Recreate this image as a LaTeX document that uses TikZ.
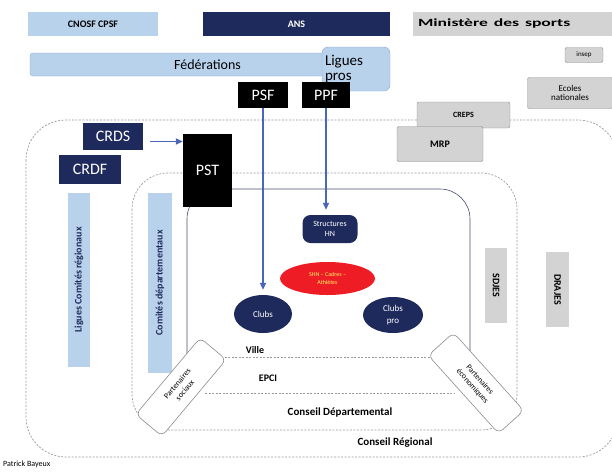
\documentclass[tikz,border=0pt]{standalone}
\usepackage{fontspec}
\setmainfont{Carlito}
\usetikzlibrary{arrows.meta, shapes.geometric}

\definecolor{bleuclair}{HTML}{B9D2EC}
\definecolor{bleubord}{HTML}{8FAAD6}
\definecolor{marine}{HTML}{1F2A5C}
\definecolor{grisfond}{HTML}{D3D3D3}
\definecolor{grisbord}{HTML}{8C8C8C}
\definecolor{fleche}{HTML}{4A66B8}
\definecolor{rouge}{HTML}{EE1C24}
\definecolor{zone}{HTML}{9A9A9A}

\newcommand{\fs}[1]{\fontsize{#1}{1.25\dimexpr#1pt\relax}\selectfont}

\begin{document}
\begin{tikzpicture}[x=1pt, y=-1pt,
    boite/.style={inner sep=0pt, align=center},
    clair/.style={boite, fill=bleuclair},
    fonce/.style={boite, fill=marine, text=white},
    noir/.style={boite, fill=black, text=white},
    gris/.style={boite, fill=grisfond, draw=grisbord, rounded corners=2pt},
    territoire/.style={draw=zone, line width=0.7pt, dash pattern=on 2pt off 1.5pt},
    partenaire/.style={boite, draw=grisbord, fill=white, rounded corners=6pt, line width=0.6pt},
    fl/.style={-{Triangle[length=7pt, width=6pt]}, fleche, line width=1.8pt}
  ]

    \useasboundingbox (0,0) rectangle (612,472);

    % territoires
    \draw[territoire, rounded corners=40pt] (26,120) rectangle (618,457);
    \draw[territoire, rounded corners=36pt] (132,173) rectangle (517,430);
    \draw[draw=marine!60!gray, line width=0.6pt, rounded corners=30pt] (187,357) -- (187,189) -- (470,189) -- (470,357);
    \draw[territoire] (200,357) -- (445,357);
    \draw[territoire] (205,393) -- (455,393);

    % niveau national
    \node[clair, minimum width=130pt, minimum height=24pt, font=\fs{10}\bfseries] (cnosf) at (93,24) {CNOSF CPSF};
    \node[fonce, minimum width=187pt, minimum height=24pt, font=\fs{10}\bfseries] (ans) at (296.5,24) {ANS};
    \node[boite, fill=grisfond, minimum width=210pt, minimum height=24pt, text width=200pt, align=left, font=\fs{11}\bfseries] (ministere) at (518,24) {\scalebox{1.6}[1]{Ministère des sports}};

    \node[clair, draw=bleubord, rounded corners=3pt, minimum width=355pt, minimum height=23pt, font=\fs{14}] (fede) at (207.5,64.5) {Fédérations};
    \node[clair, draw=bleubord, rounded corners=6pt, minimum width=68pt, minimum height=44pt, text width=62pt, align=left, font=\fs{15}] (liguespros) at (356,69) {Ligues\\[-4pt]pros};

    \node[gris, minimum width=38pt, minimum height=15pt, font=\fs{7}] (insep) at (584,55) {insep};
    \node[gris, minimum width=85pt, minimum height=31pt, font=\fs{9}] (ecoles) at (570,93) {Ecoles\\[-2pt]nationales};
    \node[gris, minimum width=93pt, minimum height=26pt, font=\fs{8}\bfseries] (creps) at (463.5,115) {CREPS};
    \node[gris, minimum width=86pt, minimum height=35pt, font=\fs{10}\bfseries] (mrp) at (440,144) {MRP};

    \node[noir, minimum width=50pt, minimum height=26pt, font=\fs{16}] (psf) at (263,95) {PSF};
    \node[noir, minimum width=48pt, minimum height=26pt, font=\fs{16}] (ppf) at (326,95) {PPF};

    % niveau regional et departemental
    \node[fonce, minimum width=60pt, minimum height=27pt, font=\fs{16}] (crds) at (113,136.5) {CRDS};
    \node[fonce, minimum width=62pt, minimum height=29pt, font=\fs{16}] (crdf) at (90,169.5) {CRDF};
    \node[noir, minimum width=49pt, minimum height=73pt, font=\fs{16}] (pst) at (207.5,170.5) {PST};

    \node[clair, rotate=90, minimum width=174pt, minimum height=22pt, font=\fs{10}\bfseries, text=marine] (liguescr) at (79,280) {Ligues Comités régionaux};
    \node[clair, rotate=90, minimum width=180pt, minimum height=24pt, font=\fs{10}\bfseries, text=marine] (comitesdep) at (160,283) {Comités départementaux};

    \node[boite, fill=grisfond, rotate=-90, minimum width=75pt, minimum height=22pt, font=\fs{10}\bfseries] (sdjes) at (496,285.5) {SDJES};
    \node[boite, fill=grisfond, rotate=-90, minimum width=75pt, minimum height=23pt, font=\fs{10}\bfseries] (drajes) at (557.5,289.5) {DRAJES};

    % niveau local
    \node[fonce, rounded corners=8pt, minimum width=55pt, minimum height=28pt, font=\fs{8}] (shn) at (330,229) {Structures\\HN};
    \node[boite, ellipse, fill=rouge, minimum width=95pt, minimum height=33pt, text=yellow!60, font=\fs{6}] (athletes) at (327.5,278.5) {SHN -- Cadres --\\Athlètes};
    \node[fonce, ellipse, minimum width=58pt, minimum height=38pt, font=\fs{9}] (clubs) at (263,314) {Clubs};
    \node[fonce, ellipse, minimum width=60pt, minimum height=36pt, font=\fs{9}] (clubspro) at (393,315) {Clubs\\pro};

    \node[boite, font=\fs{10}\bfseries] (ville) at (255,350) {Ville};
    \node[boite, font=\fs{10}\bfseries] (epci) at (268,378) {EPCI};
    \node[boite, font=\fs{11}\bfseries] (cdep) at (340,412) {Conseil Départemental};
    \node[boite, font=\fs{11}\bfseries] (creg) at (395,443) {Conseil Régional};

    \node[partenaire, rotate=50, minimum width=100pt, minimum height=34pt, font=\fs{8}] (partsoc) at (181,387) {Partenaires\\sociaux};
    \node[partenaire, rotate=-48, minimum width=105pt, minimum height=34pt, font=\fs{8}] (parteco) at (476,383) {Partenaires\\économiques};

    \node[boite, anchor=west, font=\fs{8}] (auteur) at (3,464) {Patrick Bayeux};

    % fleches
    \coordinate (crdsout) at ([yshift=-5pt]crds.east);
    \draw[fl, shorten <=7pt] (crdsout) -- (crdsout -| pst.west);
    \draw[fl, shorten >=5pt] (psf) -- (clubs);
    \draw[fl, shorten >=5pt] (ppf.south) -- (ppf.south |- shn.north);

\end{tikzpicture}
\end{document}
